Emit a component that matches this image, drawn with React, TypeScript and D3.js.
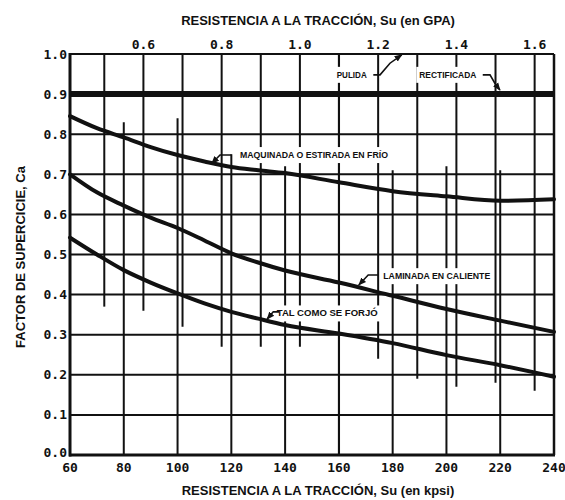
import React, { useEffect, useRef } from "react";
import * as d3 from "d3";

const KPSI_PER_GPA = 145.5;

const kpsiTicks = [60, 80, 100, 120, 140, 160, 180, 200, 220, 240];
const caTicks = [0.0, 0.1, 0.2, 0.3, 0.4, 0.5, 0.6, 0.7, 0.8, 0.9, 1.0];
const gpaTickLabels = [0.6, 0.8, 1.0, 1.2, 1.4, 1.6];

// vertical kpsi grid lines run from the bottom up to these Ca values
const kpsiGrid = [80, 100, 120, 140, 160, 180, 200, 220];
const kpsiGridTop = [0.83, 0.84, 0.75, 0.72, 1.0, 0.71, 0.72, 0.71];

// vertical GPa grid lines run from the top down to these Ca values
const gpaGrid = [0.5, 0.6, 0.7, 0.8, 0.9, 1.0, 1.1, 1.2, 1.3, 1.4, 1.5, 1.6];
const gpaGridBottom = [0.37, 0.36, 0.32, 0.27, 0.27, 0.27, 0.0, 0.24, 0.19, 0.17, 0.18, 0.16];

const horizontalGrid = [0.1, 0.2, 0.3, 0.4, 0.5, 0.6, 0.7, 0.8];

// curves, Ca vs Su (kpsi)
const su = [60, 70, 80, 90, 100, 110, 120, 130, 140, 160, 180, 200, 220, 240];
const pulidaRectificada = [0.9, 0.9, 0.9, 0.9, 0.9, 0.9, 0.9, 0.9, 0.9, 0.9, 0.9, 0.9, 0.9, 0.9];
const maquinada = [0.845, 0.815, 0.792, 0.768, 0.748, 0.732, 0.718, 0.71, 0.703, 0.68, 0.658, 0.645, 0.634, 0.638];
const laminada = [0.7, 0.655, 0.622, 0.592, 0.566, 0.535, 0.503, 0.48, 0.46, 0.43, 0.397, 0.364, 0.335, 0.307];
const forjado = [0.542, 0.5, 0.461, 0.43, 0.403, 0.378, 0.357, 0.34, 0.324, 0.303, 0.279, 0.249, 0.224, 0.195];

const curves = [maquinada, laminada, forjado];

const labels = [
  { text: "PULIDA", at: [159.2, 0.948], w: 30, leader: [[172.8, 0.948], [175.3, 0.948], [179, 0.977], [183.4, 0.998]] },
  { text: "RECTIFICADA", at: [189.9, 0.948], w: 57, leader: [[213.5, 0.948], [216.2, 0.948], [218, 0.927], [219.9, 0.91]] },
  { text: "MAQUINADA O ESTIRADA EN FRÍO", at: [123.2, 0.748], w: 148, leader: [[120.1, 0.748], [115.8, 0.748], [112.7, 0.727]] },
  { text: "LAMINADA EN CALIENTE", at: [176.5, 0.446], w: 107, leader: [[174.7, 0.449], [170.9, 0.449], [167.4, 0.424]] },
  { text: "TAL COMO SE FORJÓ", at: [136.9, 0.353], w: 101, leader: [[137.8, 0.357], [135.6, 0.357], [133.3, 0.339]] },
];

const ink = "#111";

export default function App() {
  const ref = useRef<SVGSVGElement>(null);

  useEffect(() => {
    const svg = d3.select(ref.current);
    svg.selectAll("*").remove();

    const width = 565;
    const height = 500;
    const margin = { left: 70, right: 11, top: 54, bottom: 45 };

    const x = d3.scaleLinear().domain([60, 240]).range([margin.left, width - margin.right]);
    const y = d3.scaleLinear().domain([0, 1]).range([height - margin.bottom, margin.top]);
    const xG = d3.scaleLinear()
      .domain([60 / KPSI_PER_GPA, 240 / KPSI_PER_GPA])
      .range(x.range());

    svg.append("rect").attr("width", width).attr("height", height).attr("fill", "#fff");

    svg.append("defs").append("marker")
      .attr("id", "arrow")
      .attr("viewBox", "0 0 10 10")
      .attr("refX", 9).attr("refY", 5)
      .attr("markerWidth", 5).attr("markerHeight", 5)
      .attr("orient", "auto")
      .append("path").attr("d", "M0,1 L10,5 L0,9 Z").attr("fill", ink);

    const grid = svg.append("g").attr("stroke", ink).attr("stroke-width", 2);

    grid.selectAll("line.h")
      .data(horizontalGrid)
      .join("line")
      .attr("class", "h")
      .attr("x1", x(60)).attr("x2", x(240))
      .attr("y1", d => y(d)).attr("y2", d => y(d));

    grid.selectAll("line.k")
      .data(kpsiGrid)
      .join("line")
      .attr("class", "k")
      .attr("x1", d => x(d)).attr("x2", d => x(d))
      .attr("y1", y(0)).attr("y2", (d, i) => y(kpsiGridTop[i]));

    grid.selectAll("line.g")
      .data(gpaGrid)
      .join("line")
      .attr("class", "g")
      .attr("x1", d => xG(d)).attr("x2", d => xG(d))
      .attr("y1", y(1)).attr("y2", (d, i) => y(gpaGridBottom[i]));

    // white halos behind the labels break the grid
    svg.selectAll("rect.halo")
      .data(labels)
      .join("rect")
      .attr("class", "halo")
      .attr("x", d => x(d.at[0]) - 3)
      .attr("y", d => y(d.at[1]) - 8)
      .attr("width", d => d.w + 6)
      .attr("height", 16)
      .attr("fill", "#fff");

    const line = d3.line<number>()
      .x((d, i) => x(su[i]))
      .y(d => y(d))
      .curve(d3.curveMonotoneX);

    svg.selectAll("path.curve")
      .data(curves)
      .join("path")
      .attr("class", "curve")
      .attr("d", d => line(d))
      .attr("fill", "none")
      .attr("stroke", ink)
      .attr("stroke-width", 4)
      .attr("stroke-linecap", "round");

    svg.append("path")
      .attr("d", line(pulidaRectificada))
      .attr("fill", "none")
      .attr("stroke", ink)
      .attr("stroke-width", 6);

    const leader = d3.line<number[]>().x(d => x(d[0])).y(d => y(d[1]));

    svg.selectAll("path.leader")
      .data(labels)
      .join("path")
      .attr("class", "leader")
      .attr("d", d => leader(d.leader))
      .attr("fill", "none")
      .attr("stroke", ink)
      .attr("stroke-width", 1.6)
      .attr("marker-end", "url(#arrow)");

    svg.selectAll("text.label")
      .data(labels)
      .join("text")
      .attr("class", "label")
      .attr("x", d => x(d.at[0]))
      .attr("y", d => y(d.at[1]))
      .attr("dy", "0.35em")
      .attr("textLength", d => d.w)
      .attr("lengthAdjust", "spacingAndGlyphs")
      .style("font-family", "'Liberation Sans Narrow', 'Liberation Sans', Arial, sans-serif")
      .style("font-weight", "bold")
      .style("font-size", "8.5px")
      .attr("fill", ink)
      .text(d => d.text);

    // frame
    const frame = svg.append("g").attr("stroke", ink).attr("fill", "none");
    frame.append("line").attr("x1", x(60)).attr("x2", x(240)).attr("y1", y(1)).attr("y2", y(1)).attr("stroke-width", 2);
    frame.append("line").attr("x1", x(240)).attr("x2", x(240)).attr("y1", y(1)).attr("y2", y(0)).attr("stroke-width", 2.5);
    frame.append("line").attr("x1", x(60)).attr("x2", x(60)).attr("y1", y(1) - 1).attr("y2", y(0) + 1.5).attr("stroke-width", 3);
    frame.append("line").attr("x1", x(60) - 1).attr("x2", x(240) + 1).attr("y1", y(0)).attr("y2", y(0)).attr("stroke-width", 3);

    const tickFont = (sel: any) => sel
      .style("font-family", "'DejaVu Sans Mono', monospace")
      .style("font-weight", "bold")
      .style("font-size", "13px")
      .attr("fill", ink);

    svg.selectAll("text.ytick")
      .data(caTicks)
      .join("text")
      .attr("class", "ytick")
      .attr("x", x(60) - 3)
      .attr("y", d => y(d) - (d === 0 ? 3 : 0))
      .attr("dy", "0.35em")
      .attr("text-anchor", "end")
      .call(tickFont)
      .text(d => d.toFixed(1));

    svg.selectAll("text.xtick")
      .data(kpsiTicks)
      .join("text")
      .attr("class", "xtick")
      .attr("x", d => x(d))
      .attr("y", y(0) + 12)
      .attr("dy", "0.35em")
      .attr("text-anchor", "middle")
      .call(tickFont)
      .text(d => d);

    svg.selectAll("text.gtick")
      .data(gpaTickLabels)
      .join("text")
      .attr("class", "gtick")
      .attr("x", d => xG(d))
      .attr("y", y(1) - 10)
      .attr("dy", "0.35em")
      .attr("text-anchor", "middle")
      .call(tickFont)
      .text(d => d.toFixed(1));

    const titleFont = (sel: any) => sel
      .style("font-family", "'Liberation Sans', Arial, sans-serif")
      .style("font-weight", "bold")
      .style("font-size", "13px")
      .attr("fill", ink)
      .attr("text-anchor", "middle")
      .attr("dy", "0.35em");

    svg.append("text")
      .attr("x", 318).attr("y", 20)
      .call(titleFont)
      .text("RESISTENCIA A LA TRACCIÓN, Su (en GPA)");

    svg.append("text")
      .attr("x", 318).attr("y", 490)
      .call(titleFont)
      .text("RESISTENCIA A LA TRACCIÓN, Su (en kpsi)");

    svg.append("text")
      .attr("transform", "translate(20,257) rotate(-90)")
      .call(titleFont)
      .text("FACTOR DE SUPERCICIE, Ca");
  }, []);

  return (
    <svg
      ref={ref}
      width={565}
      height={500}
      style={{ position: "absolute", left: 0, top: 0 }}
    />
  );
}
